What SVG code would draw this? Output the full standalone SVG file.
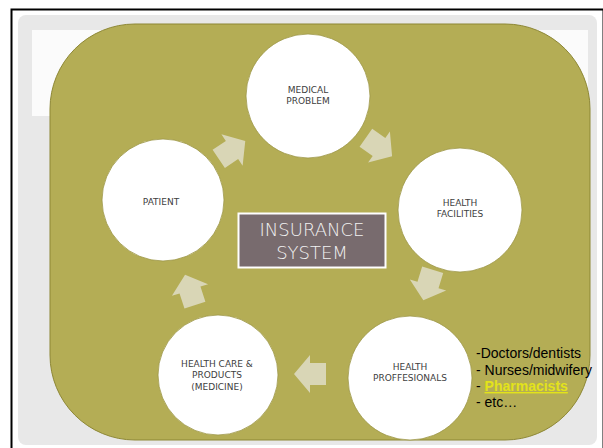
<svg xmlns="http://www.w3.org/2000/svg" width="603" height="448" viewBox="0 0 603 448">
<defs>
<style>
.node circle{fill:#ffffff;stroke:#9c9545;stroke-width:0.8}
.lbl{font-family:"DejaVu Sans",sans-serif;font-size:9px;fill:#404040;text-anchor:middle}
.arr{fill:#d9d6b6}
.list{font-family:"Liberation Sans",Arial,sans-serif;font-size:14px;fill:#000}
</style>
<polygon id="ar" points="-16,-11 0,-11 0,-19 16,0 0,19 0,11 -16,11"/>
</defs>
<rect x="0" y="0" width="603" height="448" fill="#ffffff"/>
<rect x="11.5" y="9.5" width="592" height="450" fill="#ffffff" stroke="#000" stroke-width="2"/>
<rect x="18" y="15" width="579" height="430" rx="8" fill="#e8e8e8"/>
<rect x="32" y="30" width="556" height="86" fill="#fbfbfb"/>
<rect x="50" y="24" width="540" height="416" rx="85" ry="85" fill="#b4ad55" stroke="#8d8734" stroke-width="1"/>

<g id="connectors">
<use href="#ar" class="arr" transform="translate(232,150) rotate(-34)"/>
<use href="#ar" class="arr" transform="translate(379,147) rotate(35)"/>
<use href="#ar" class="arr" transform="translate(428,285) rotate(107)"/>
<use href="#ar" class="arr" transform="translate(310,374) rotate(180)"/>
<use href="#ar" class="arr" transform="translate(190,290) rotate(-108)"/>
</g>

<g id="medical-problem" class="node">
<circle cx="308" cy="96" r="62"/>
<text class="lbl" x="308" y="92.5">MEDICAL</text>
<text class="lbl" x="308" y="103.5">PROBLEM</text>
</g>
<g id="health-facilities" class="node">
<circle cx="460" cy="210" r="62"/>
<text class="lbl" x="460" y="206">HEALTH</text>
<text class="lbl" x="460" y="217">FACILITIES</text>
</g>
<g id="health-professionals" class="node">
<circle cx="410" cy="378" r="62"/>
<text class="lbl" x="410" y="370">HEALTH</text>
<text class="lbl" x="410" y="381">PROFFESIONALS</text>
</g>
<g id="health-care" class="node">
<circle cx="218" cy="375" r="60"/>
<text class="lbl" x="217" y="366.5">HEALTH CARE &amp;</text>
<text class="lbl" x="217" y="378">PRODUCTS</text>
<text class="lbl" x="217" y="389.5">(MEDICINE)</text>
</g>
<g id="patient" class="node">
<circle cx="163" cy="200" r="61"/>
<text class="lbl" x="161" y="205">PATIENT</text>
</g>
<g id="insurance-system">
<rect x="238.5" y="213.5" width="147" height="54" fill="#786b6e" stroke="#ffffff" stroke-width="2"/>
<text x="312" y="236" font-family="DejaVu Sans,sans-serif" font-size="18" font-weight="200" fill="#f2f2f2" text-anchor="middle">INSURANCE</text>
<text x="312" y="258.5" font-family="DejaVu Sans,sans-serif" font-size="18" font-weight="200" fill="#f2f2f2" text-anchor="middle">SYSTEM</text>
</g>
<g id="professionals-list">
<text class="list" x="476" y="358">-Doctors/dentists</text>
<text class="list" x="476" y="375">- Nurses/midwifery</text>
<text class="list" x="476" y="391">- <tspan fill="#e3e31a" font-weight="bold" text-decoration="underline">Pharmacists</tspan></text>
<text class="list" x="476" y="407">-  etc…</text>
</g>
</svg>
